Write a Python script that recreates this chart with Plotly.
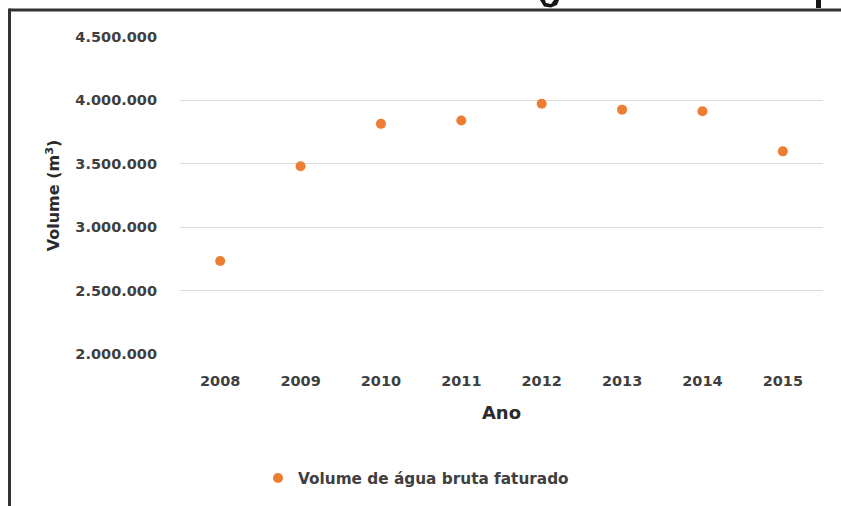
import plotly.graph_objects as go

years = ["2008", "2009", "2010", "2011", "2012", "2013", "2014", "2015"]
volume = [2734000, 3481000, 3815000, 3841000, 3974000, 3927000, 3914000, 3598000]
series_name = "Volume de água bruta faturado"
y_ticks = [2000000, 2500000, 3000000, 3500000, 4000000, 4500000]
y_tick_labels = ["2.000.000", "2.500.000", "3.000.000", "3.500.000", "4.000.000", "4.500.000"]

W, H = 841, 506
L, R, T, B = 180, 18, 37, 152
pw, ph = W - L - R, H - T - B

def px_x(x):
    return (x - L) / pw

def px_y(y):
    return (H - B - y) / ph

FONT = "DejaVu Sans"
TXT = "#3f3f3f"
TITLE = "#2b2b2b"

fig = go.Figure()
fig.add_trace(go.Scatter(
    x=years, y=volume, mode="markers", name=series_name,
    marker=dict(color="#ED7D31", size=10),
    showlegend=True,
))

# fragments of clipped caption glyphs at the very top edge of the scan
def frag_path(points):
    return "M " + " L ".join(f"{px_x(x):.5f},{px_y(y):.5f}" for x, y in points) + " Z"

g_tail = [(540, 0), (545, 0), (546, 3), (551, 4), (554, 0), (559, 0), (557, 5), (551, 7.5), (544, 6.5)]
p_stem = [(816, 0), (821, 0), (821, 8), (816, 8)]

fig.update_layout(
    width=W, height=H,
    margin=dict(l=L, r=R, t=T, b=B),
    paper_bgcolor="white", plot_bgcolor="white",
    font=dict(family=FONT, color=TXT),
    showlegend=True,
    legend=dict(
        orientation="h", x=px_x(258), y=px_y(478),
        xanchor="left", yanchor="middle",
        font=dict(family=FONT, size=15.3, color=TXT, weight="bold"),
        itemwidth=30,
    ),
    xaxis=dict(
        type="category", range=[-0.5, 7.5],
        showgrid=False, showline=False, zeroline=False,
        ticks="", ticklabelstandoff=16,
        tickfont=dict(family=FONT, size=14.5, color=TXT, weight="bold"),
        title=dict(text="Ano", standoff=18,
                   font=dict(family=FONT, size=18, color=TITLE, weight="bold")),
    ),
    yaxis=dict(
        range=[2000000, 4500000],
        tickvals=y_ticks, ticktext=y_tick_labels,
        showgrid=True, gridcolor="#dcdcdc", gridwidth=1,
        showline=False, zeroline=False, ticks="",
        ticklabelstandoff=22,
        tickfont=dict(family=FONT, size=14.5, color=TXT, weight="bold"),
        title=dict(text="Volume (m<sup>3</sup>)", standoff=11,
                   font=dict(family=FONT, size=16, color=TITLE, weight="bold")),
    ),
    shapes=[
        dict(type="line", xref="paper", yref="paper",
             x0=px_x(9.5), x1=px_x(W + 5), y0=px_y(10), y1=px_y(10),
             line=dict(color="#333333", width=3)),
        dict(type="line", xref="paper", yref="paper",
             x0=px_x(9.5), x1=px_x(9.5), y0=px_y(8.5), y1=px_y(H + 5),
             line=dict(color="#333333", width=3)),
        dict(type="path", xref="paper", yref="paper", path=frag_path(g_tail),
             fillcolor="#151515", line=dict(width=0)),
        dict(type="path", xref="paper", yref="paper", path=frag_path(p_stem),
             fillcolor="#151515", line=dict(width=0)),
    ],
)

fig.write_html("out.html", config={"displayModeBar": False},
               post_script="document.body.style.margin='0';")
